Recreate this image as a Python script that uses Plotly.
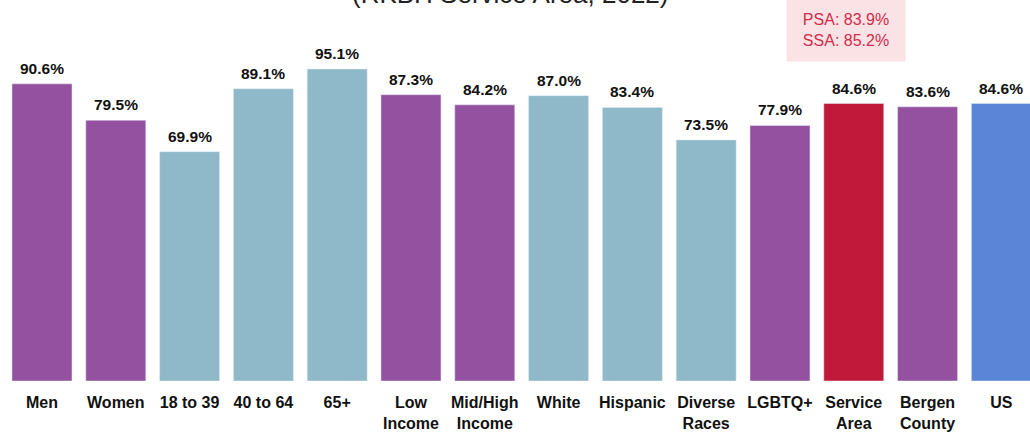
import plotly.graph_objects as go

categories = ['Men', 'Women', '18 to 39', '40 to 64', '65+', 'Low<br>Income',
              'Mid/High<br>Income', 'White', 'Hispanic', 'Diverse<br>Races',
              'LGBTQ+', 'Service<br>Area', 'Bergen<br>County', 'US']
values = [90.6, 79.5, 69.9, 89.1, 95.1, 87.3, 84.2, 87.0, 83.4, 73.5, 77.9, 84.6, 83.6, 84.6]
groups = ['purple', 'purple', 'teal', 'teal', 'teal', 'purple', 'purple', 'teal',
          'teal', 'teal', 'purple', 'red', 'purple', 'blue']
sub_areas = ['PSA: 83.9%', 'SSA: 85.2%']
title_text = '(RKBH Service Area, 2022)'

palette = {'purple': '#93519F', 'teal': '#8FB9C8', 'red': '#C0193A', 'blue': '#5B86D7'}
font_family = 'Liberation Sans, Arial'

fig = go.Figure()
fig.add_trace(go.Bar(
    x=list(range(len(categories))),
    y=values,
    marker=dict(color=[palette[g] for g in groups]),
    hoverinfo='x+y',
))

# value labels above bars
for i, v in enumerate(values):
    fig.add_annotation(
        x=i, y=v, text=f'{v:.1f}%', showarrow=False, yanchor='bottom', yshift=5,
        font=dict(family=font_family, size=15.5, color='#111111', weight='bold'),
    )

fig.add_annotation(
    text='<br>'.join(sub_areas), xref='x', yref='paper', x=11, y=1,
    xshift=-8, yshift=-9, yanchor='bottom', xanchor='center', showarrow=False,
    align='center', bgcolor='#FBE3E5', borderpad=8, width=102, height=46,
    font=dict(family=font_family, size=16, color='#D42A4B'),
)
fig.add_annotation(
    text=title_text, xref='paper', yref='paper', x=0.495, y=1, yshift=42,
    yanchor='bottom', showarrow=False,
    font=dict(family=font_family, size=26, color='#222222'),
)

fig.update_layout(
    width=1030, height=436,
    margin=dict(l=0, r=0, t=53, b=55),
    plot_bgcolor='white', paper_bgcolor='white',
    bargap=0.187, showlegend=False,
    xaxis=dict(
        range=[-0.569, 13.388], tickmode='array',
        tickvals=list(range(len(categories))), ticktext=categories,
        ticks='outside', ticklen=7, tickcolor='white',
        tickfont=dict(family=font_family, size=16, color='#111111', weight='bold'),
        showgrid=False, zeroline=False,
    ),
    yaxis=dict(range=[0, 100], visible=False),
)

fig.write_html('out.html', config={'displayModeBar': False},
               post_script="document.body.style.margin='0';")
